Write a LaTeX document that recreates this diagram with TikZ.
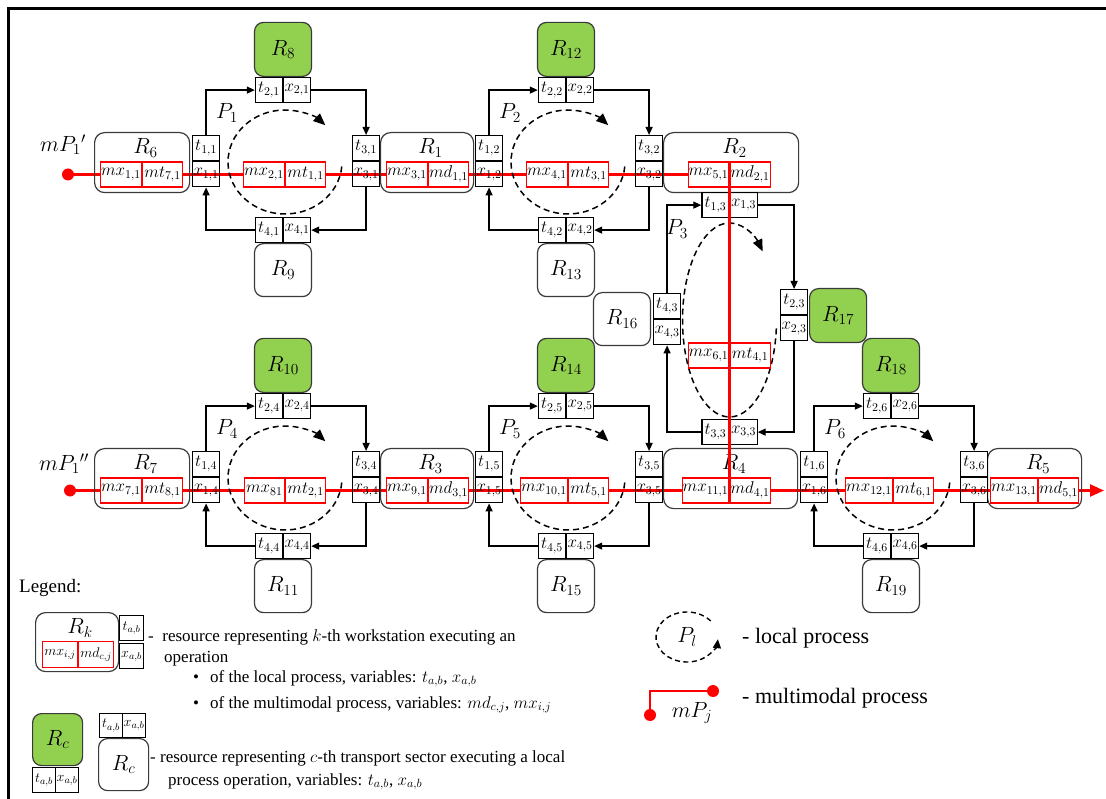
\RequirePackage{fix-cm}
\documentclass[tikz,border=0pt]{standalone}
\usepackage[no-math]{fontspec}
\setmainfont{Liberation Serif}
\usetikzlibrary{arrows.meta}
\pgfdeclarelayer{bg}
\pgfsetlayers{bg,main}
\definecolor{gr}{HTML}{92D050}
\definecolor{bd}{HTML}{3A3A3A}

% horizontal local cycle: #1 p, #2 X, #3 Y, #4 green num, #5 white num, #6 #7 red pair
\newcommand{\hcyc}[7]{%
 \node[tb, anchor=north west] (t1#1) at (#2,#3) {$t_{1,#1}$};
 \node[tb, anchor=north] (x1#1) at (t1#1.south) {$x_{1,#1}$};
 \node[tb, anchor=north east] (t2#1) at ({#2+91},{#3-58}) {$t_{2,#1}$};
 \node[tb, anchor=north west] (x2#1) at ({#2+91},{#3-58}) {$x_{2,#1}$};
 \node[gbox, anchor=south] (G#1) at ({#2+91},{#3-58}) {$R_{#4}$};
 \node[tb, anchor=north west] (t3#1) at ({#2+160},#3) {$t_{3,#1}$};
 \node[tb, anchor=north] (x3#1) at (t3#1.south) {$x_{3,#1}$};
 \node[tb, anchor=north east] (t4#1) at ({#2+91},{#3+82}) {$t_{4,#1}$};
 \node[tb, anchor=north west] (x4#1) at ({#2+91},{#3+82}) {$x_{4,#1}$};
 \node[wbox, anchor=north] (W#1) at ({#2+91},{#3+108}) {$R_{#5}$};
 \draw[conn] (t1#1.north) |- (t2#1.west);
 \draw[conn] (x2#1.east) -| (t3#1.north);
 \draw[conn] (x3#1.south) |- (x4#1.east);
 \draw[conn] (t4#1.west) -| (x1#1.south);
 \draw[proc] ({#2+93+57*cos(5)},{#3+27+52*sin(5)}) arc[start angle=5,end angle=315,x radius=57,y radius=52];
 \node[plab] (P#1) at ({#2+35},{#3-22}) {$P_{#1}$};
 \node[rp, anchor=east] (m#1a) at ({#2+93},{#3+39.5}) {$#6$};
 \node[rp, anchor=west] (m#1b) at ({#2+93},{#3+39.5}) {$#7$};
}

% workstation: #1 name, #2 x, #3 y, #4 width, #5 divider x, #6 label, #7 #8 red pair
\newcommand{\wst}[8]{%
 \node[ws, anchor=north west, minimum width=#4pt, minimum height=60pt] (#1) at (#2,#3) {};
 \node[rlab] (#1l) at ({#2+#4/2+4},{#3+16}) {$R_{#6}$};
 \node[rp, anchor=east] (#1a) at (#5,{#3+42.5}) {$#7$};
 \node[rp, anchor=west] (#1b) at (#5,{#3+42.5}) {$#8$};
}

\begin{document}
\begin{tikzpicture}[x=1pt,y=-1pt,
 tb/.style={draw=black, line width=1.2pt, minimum width=27pt, minimum height=25pt, inner sep=0pt, font=\fontsize{17}{17}\selectfont},
 tbs/.style={draw=black, line width=1.2pt, minimum width=24pt, minimum height=25pt, inner sep=0pt, font=\fontsize{14}{14}\selectfont},
 rp/.style={draw=red, fill=white, line width=1.2pt, minimum width=40pt, minimum height=25pt, inner sep=0.5pt, font=\fontsize{17}{17}\selectfont},
 rps/.style={draw=red, fill=white, line width=1.2pt, minimum width=35pt, minimum height=26pt, inner sep=0.5pt, font=\fontsize{14}{14}\selectfont},
 ws/.style={draw=bd, line width=1.2pt, rounded corners=10pt, inner sep=0pt},
 gbox/.style={draw=bd, fill=gr, line width=1.2pt, rounded corners=9pt, minimum width=57pt, minimum height=54pt, inner sep=0pt, font=\fontsize{22}{22}\selectfont},
 wbox/.style={draw=bd, fill=white, line width=1.2pt, rounded corners=9pt, minimum width=57pt, minimum height=53pt, inner sep=0pt, font=\fontsize{22}{22}\selectfont},
 rlab/.style={font=\fontsize{22}{22}\selectfont, inner sep=0pt},
 plab/.style={font=\fontsize{22}{22}\selectfont, inner sep=0pt},
 conn/.style={line width=1.3pt, -{Triangle[length=8pt,width=7pt]}},
 proc/.style={line width=1.5pt, dash pattern=on 6pt off 4pt, -{Triangle[length=12pt,width=10pt]}},
 redl/.style={draw=red, line width=2.4pt},
 dot/.style={circle, fill=red, inner sep=0pt, minimum size=12pt},
 lt/.style={font=\fontsize{17}{17}\selectfont, inner sep=0pt, anchor=base west},
 lt2/.style={font=\fontsize{22}{22}\selectfont, inner sep=0pt, anchor=base west}
]
\useasboundingbox (0,0) rectangle (1106,799);
\begin{pgfonlayer}{bg}
\fill[white] (0,0) rectangle (1106,799);
\end{pgfonlayer}
\draw[line width=3pt] (8,799) -- (8,9) -- (1106,9);

% workstations
\wst{R6}{94}{132}{95}{142}{6}{mx_{1,1}}{mt_{7,1}}
\wst{R1}{380}{132}{93}{428}{1}{mx_{3,1}}{md_{1,1}}
\wst{R2}{663}{132}{135}{729.5}{2}{mx_{5,1}}{md_{2,1}}
\wst{R7}{94}{448}{95}{142}{7}{mx_{7,1}}{mt_{8,1}}
\wst{R3}{380}{448}{93}{428}{3}{mx_{9,1}}{md_{3,1}}
\wst{R4}{663}{448}{134}{729.5}{4}{mx_{11,1}}{md_{4,1}}
\wst{R5}{987}{448}{94}{1038}{5}{mx_{13,1}}{md_{5,1}}

% local cycles
\hcyc{1}{192}{135}{8}{9}{mx_{2,1}}{mt_{1,1}}
\hcyc{2}{475}{135}{12}{13}{mx_{4,1}}{mt_{3,1}}
\hcyc{4}{192}{451}{10}{11}{mx_{81}}{mt_{2,1}}
\hcyc{5}{475}{451}{14}{15}{mx_{10,1}}{mt_{5,1}}
\hcyc{6}{800}{451}{18}{19}{mx_{12,1}}{mt_{6,1}}

% vertical cycle P3
\node[tb, anchor=north east] (t13) at (729.5,192) {$t_{1,3}$};
\node[tb, anchor=north west] (x13) at (729.5,192) {$x_{1,3}$};
\node[tb, anchor=north west] (t43) at (653,293) {$t_{4,3}$};
\node[tb, anchor=north] (x43) at (t43.south) {$x_{4,3}$};
\node[wbox, anchor=north east] (R16) at (651,292) {$R_{16}$};
\node[tb, anchor=north west] (t23) at (780,289) {$t_{2,3}$};
\node[tb, anchor=north] (x23) at (t23.south) {$x_{2,3}$};
\node[gbox, anchor=north west] (R17) at (809,288) {$R_{17}$};
\node[tb, anchor=north east] (t33) at (729.5,419) {$t_{3,3}$};
\node[tb, anchor=north west] (x33) at (729.5,419) {$x_{3,3}$};
\draw[conn] (t43.north) |- (t13.west);
\draw[conn] (x13.east) -| (t23.north);
\draw[conn] (x23.south) |- (x33.east);
\draw[conn] (t33.west) -| (x43.south);
\draw[proc] ({729.5+47*cos(5)},{320+97*sin(5)}) arc[start angle=5,end angle=315,x radius=47,y radius=97];
\node[plab] (P3) at (677,229) {$P_3$};
\node[rp, anchor=east] (m3a) at (729.5,355.5) {$mx_{6,1}$};
\node[rp, anchor=west] (m3b) at (729.5,355.5) {$mt_{4,1}$};

% multimodal process
\node[dot] (d1) at (68,174.5) {};
\node[dot] (d2) at (70,490.5) {};
\coordinate (aend) at (1104,490.5);
\node[rlab] (mp1) at (63,145) {$mP_1{}'$};
\node[rlab] (mp2) at (64,464) {$mP_1{}''$};
\begin{pgfonlayer}{bg}
\draw[redl] (d1.center) -- (R2a.west);
\draw[redl, -{Triangle[length=14pt,width=12pt]}] (d2.center) -- (aend);
\end{pgfonlayer}
\draw[redl] (R2a.south east) -- (R4a.south east);

% legend
\node[font=\fontsize{19}{19}\selectfont, inner sep=0pt, anchor=base west] (leg) at (19,592) {Legend:};
\node[ws, anchor=north west, minimum width=83pt, minimum height=59pt] (Lk) at (35,612) {};
\node[rlab] (Lkl) at (80,628) {$R_k$};
\node[rps, anchor=east] (Lka) at (78,654.5) {$mx_{i,j}$};
\node[rps, anchor=west] (Lkb) at (78,654.5) {$md_{c,j}$};
\node[tbs, anchor=north west] (Lt) at (119,615) {$t_{a,b}$};
\node[tbs, anchor=north west] (Lx) at (119,643) {$x_{a,b}$};
\node[lt] (L1) at (148,641) {- \ resource representing $k$-th workstation executing an};
\node[lt] (L2) at (164,662) {operation};
\node[lt] (b1) at (193,682) {\textbullet};
\node[lt] (L3) at (210,682) {of the local process, variables: $t_{a,b}$, $x_{a,b}$};
\node[lt] (b2) at (193,708) {\textbullet};
\node[lt] (L4) at (210,708) {of the multimodal process, variables: $md_{c,j}$, $mx_{i,j}$};

\node[gbox, anchor=north west, minimum width=50pt, minimum height=52pt] (Lc) at (32,713) {$R_c$};
\node[tbs, anchor=north west, minimum width=23pt] (Lct) at (32,767) {$t_{a,b}$};
\node[tbs, anchor=north west, minimum width=23pt] (Lcx) at (55,767) {$x_{a,b}$};
\node[wbox, anchor=north west, minimum width=50pt, minimum height=52pt] (Lw) at (98,738) {$R_c$};
\node[tbs, anchor=north west, minimum width=23pt, minimum height=24pt] (Lwt) at (99,713) {$t_{a,b}$};
\node[tbs, anchor=north west, minimum width=23pt, minimum height=24pt] (Lwx) at (122,713) {$x_{a,b}$};
\node[lt] (L5) at (150,762) {- resource representing $c$-th transport sector executing a local};
\node[lt] (L6) at (168,785) {process operation, variables: $t_{a,b}$, $x_{a,b}$};

\draw[line width=1.4pt, dash pattern=on 5pt off 3.5pt, -{Triangle[length=9pt,width=8pt]}] ({687+31*cos(-40)},{637+25*sin(-40)}) arc[start angle=-40,end angle=-355,x radius=31,y radius=25];
\node[plab] (Pl) at (687,637) {$P_l$};
\node[lt2] (L7) at (742,643) {- local process};
\node[dot] (dj1) at (650,715) {};
\node[dot] (dj2) at (713,691) {};
\draw[red, line width=1.8pt] (dj1.center) |- (dj2.center);
\node[rlab] (mpj) at (692,713) {$mP_j$};
\node[lt2] (L8) at (742,703) {- multimodal process};
\end{tikzpicture}
\end{document}
